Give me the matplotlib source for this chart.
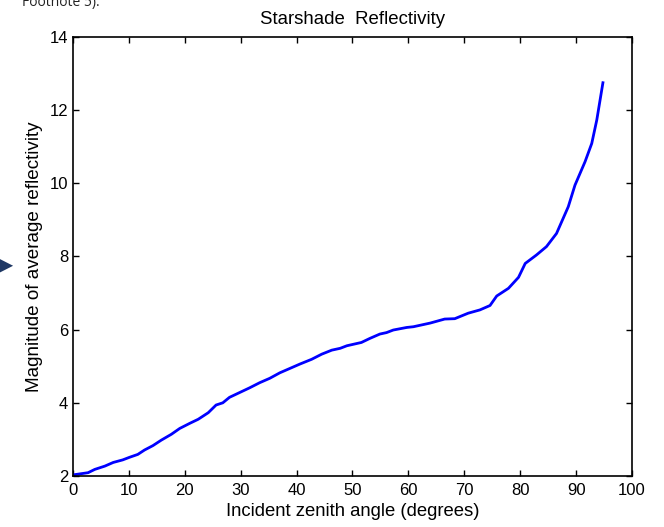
import matplotlib
matplotlib.use('Agg')
import matplotlib.pyplot as plt

# incident zenith angle (deg) and average reflectivity magnitude
angle = [0, 2.7, 3.9, 5.7, 7.2, 8.9, 10.1, 11.6, 12.8, 14.3, 15.8, 17.6, 19.1, 20.9,
         22.4, 24.2, 25.6, 26.8, 28.0, 29.8, 31.6, 33.4, 35.2, 37.0, 38.8, 40.6, 42.7,
         44.5, 46.3, 47.8, 49.0, 51.6, 53.1, 54.9, 56.1, 57.3, 59.7, 60.9, 63.9, 66.5,
         68.3, 70.7, 72.8, 74.6, 75.8, 77.9, 79.7, 80.9, 82.9, 84.7, 86.5, 88.6, 89.8,
         91.6, 92.8, 93.7, 94.8]
reflect = [2.03, 2.09, 2.18, 2.27, 2.37, 2.44, 2.51, 2.59, 2.71, 2.83, 2.98, 3.14, 3.30,
           3.44, 3.55, 3.73, 3.94, 4.00, 4.15, 4.28, 4.41, 4.55, 4.67, 4.82, 4.94, 5.06,
           5.19, 5.33, 5.44, 5.49, 5.56, 5.65, 5.76, 5.88, 5.92, 5.99, 6.06, 6.08, 6.18,
           6.29, 6.30, 6.45, 6.54, 6.66, 6.92, 7.13, 7.43, 7.81, 8.04, 8.27, 8.63, 9.36,
           9.95, 10.59, 11.09, 11.73, 12.75]

xticks = [0, 10, 20, 30, 40, 50, 60, 70, 80, 90, 100]
yticks = [2, 4, 6, 8, 10, 12, 14]

plt.rcParams['font.family'] = ['Liberation Sans', 'DejaVu Sans']

fig = plt.figure(figsize=(6.64, 5.27), dpi=100)
ax = fig.add_axes([0.1099, 0.0968, 0.8419, 0.833])

ax.plot(angle, reflect, color='#0000ff', linewidth=2.0)
ax.set_xlim(0, 100)
ax.set_ylim(2, 14)
ax.set_xticks(xticks)
ax.set_yticks(yticks)
ax.tick_params(direction='in', length=4, width=1, top=True, right=True, labelsize=12)
ax.tick_params(axis='x', pad=5)
for s in ax.spines.values():
    s.set_linewidth(1.2)

ax.set_xlabel('Incident zenith angle (degrees)', fontsize=13.3, labelpad=4)
ax.set_ylabel('Magnitude of average reflectivity', fontsize=13.6, labelpad=5)
ax.set_title('Starshade  Reflectivity', fontsize=13.4, pad=9)

# bits of the surrounding page
fig.text(0.033, 0.995, 'Footnote 5).', fontsize=10, family='Open Sans', color='#222222', va='center')
fig.text(-0.008, 0.497, '\u25b6', fontsize=17, family='DejaVu Sans', color='#1f3864', va='center')

fig.savefig('out.png', dpi=100)
